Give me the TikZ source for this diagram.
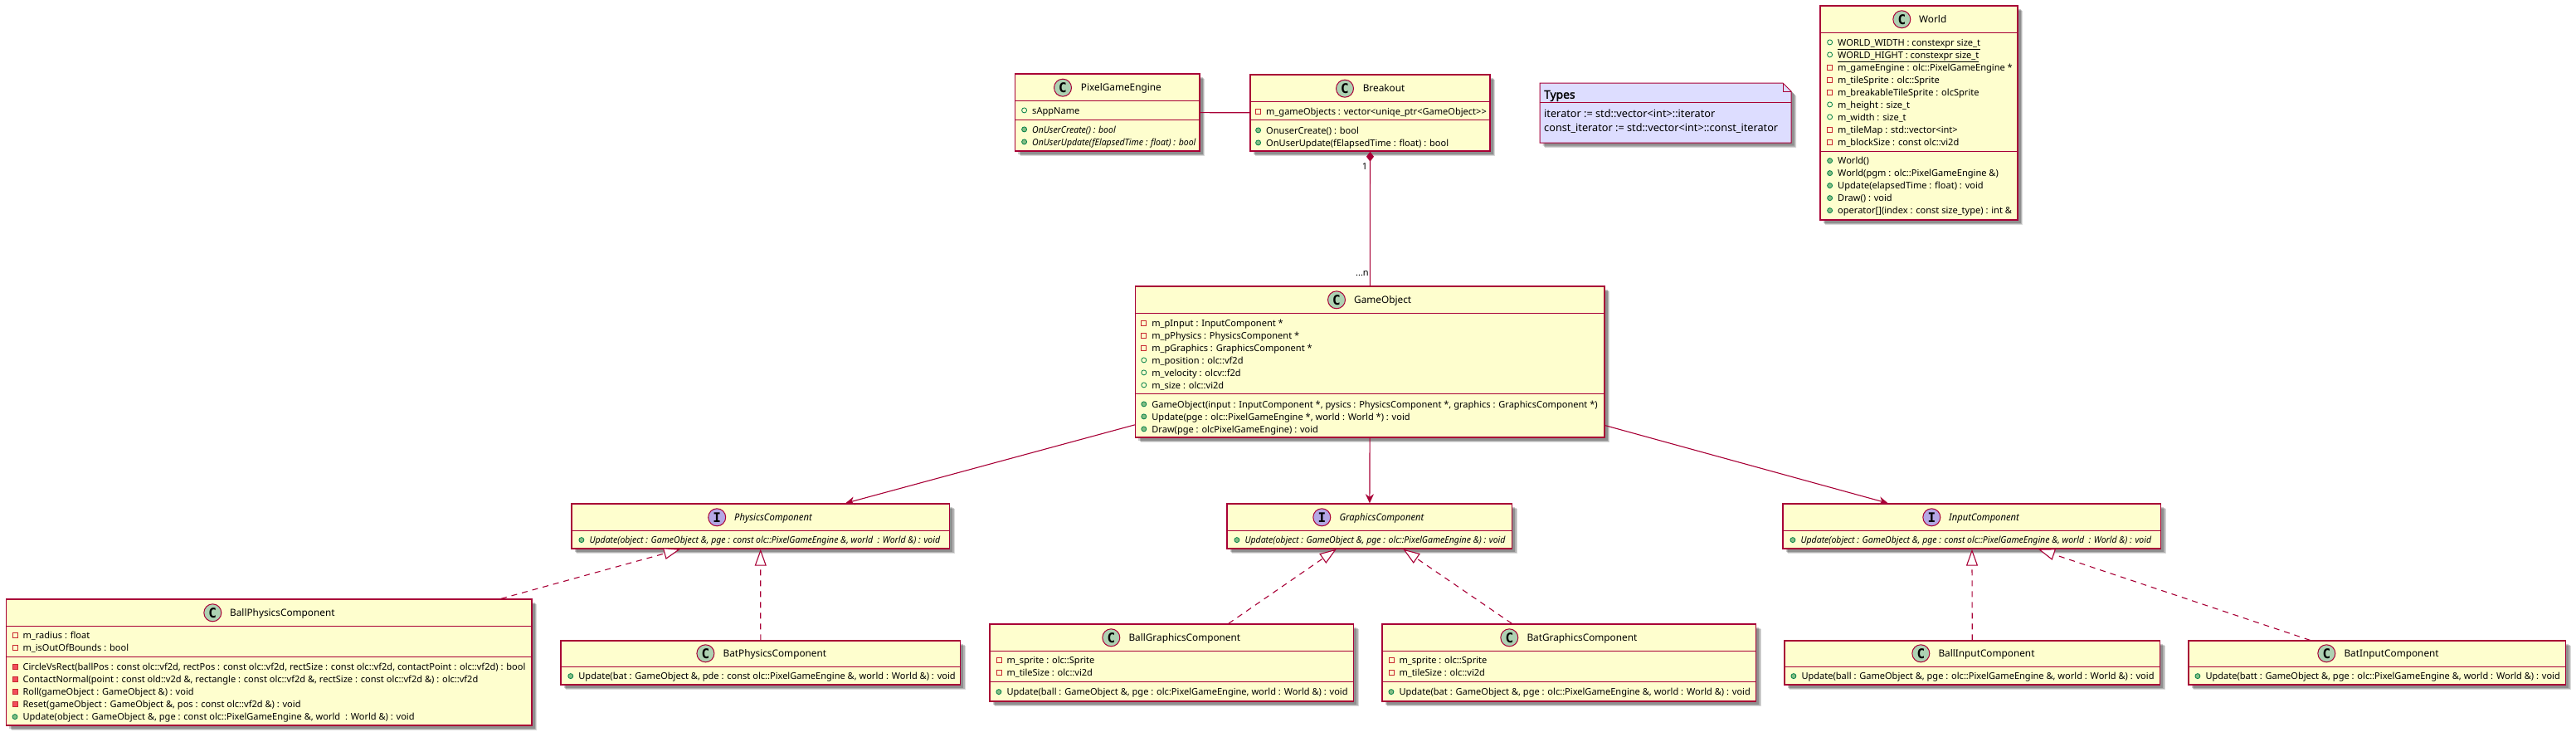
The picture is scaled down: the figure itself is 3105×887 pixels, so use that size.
\documentclass[tikz,border=0pt]{standalone}
\usepackage{fontspec}
\setmainfont{Noto Sans}[ItalicFeatures={FakeStretch=0.95}]
\newfontfamily\iconfont{DejaVu Sans Mono}
\newfontfamily\headfont{Noto Sans}[FakeBold=1.6]
\usetikzlibrary{arrows.meta,shadows}
\definecolor{umlred}{HTML}{A80036}
\definecolor{umlfill}{HTML}{FEFECE}
\definecolor{notefill}{HTML}{DDDDFF}
\definecolor{classicon}{HTML}{ADD1B2}
\definecolor{ifaceicon}{HTML}{B4A7E5}
\definecolor{publine}{HTML}{038048}
\definecolor{pubfill}{HTML}{84BE84}
\definecolor{privline}{HTML}{C82930}
\definecolor{privfill}{HTML}{F24D5C}
\newcommand{\rowfont}{\fontsize{11.05}{14}\selectfont}
\tikzset{
    softshadow/.style={
        drop shadow={shadow xshift=6pt, shadow yshift=-6pt, fill=black, opacity=.14},
        drop shadow={shadow xshift=5pt, shadow yshift=-5pt, fill=black, opacity=.18},
        drop shadow={shadow xshift=3.5pt, shadow yshift=-3.5pt, fill=black, opacity=.2}},
    classbox/.style={draw=umlred, fill=umlfill, line width=1.4pt, inner sep=0pt, softshadow},
    sepline/.style={draw=umlred, line width=1pt},
    classicon/.style={draw=umlred, fill=classicon, circle, line width=1pt, minimum size=21pt, inner sep=0pt, font=\iconfont\bfseries\fontsize{16}{16}\selectfont},
    ifaceicon/.style={classicon, fill=ifaceicon},
    classtitle/.style={anchor=west, inner sep=0pt, text height=9pt, text depth=1.4pt, font=\fontsize{11.8}{16}\selectfont},
    ifacetitle/.style={classtitle, font=\fontsize{11.8}{16}\selectfont\itshape},
    rowtext/.style={anchor=west, inner sep=0pt, text height=9pt, text depth=1.4pt, font=\rowfont},
    roundmark/.style={circle, inner sep=0pt, minimum size=6pt, line width=.8pt, yshift=.4pt, label distance=6pt},
    squaremark/.style={rectangle, inner sep=0pt, minimum size=6pt, line width=.8pt, yshift=.4pt, label distance=6pt},
    pubfield/.style={rowtext, label={[roundmark, draw=publine]left:{}}},
    pubmethod/.style={rowtext, label={[roundmark, draw=publine, fill=pubfill]left:{}}},
    privfield/.style={rowtext, label={[squaremark, draw=privline]left:{}}},
    privmethod/.style={rowtext, label={[squaremark, draw=privline, fill=privfill]left:{}}},
    absmethod/.style={pubmethod, font=\rowfont\itshape},
    assoc/.style={draw=umlred, line width=1.1pt},
    uses/.style={assoc, -{Stealth[length=11pt, width=10pt, inset=3.5pt]}},
    realizes/.style={assoc, dash pattern=on 7pt off 6pt, -{Triangle[open, length=20pt, width=14pt, fill=white]}},
    owns/.style={assoc, {Diamond[length=12pt, width=9pt]}-},
    notetext/.style={anchor=west, inner sep=0pt, font=\fontsize{12.7}{16}\selectfont},
}
\begin{document}
\begin{tikzpicture}[x=1pt, y=-1pt]
    \useasboundingbox (0,0) rectangle (3105,887);

    \node[classbox, minimum width=222.4pt, minimum height=93pt] (PGE) at (1334.8,135.5) {};
    \draw[sepline] (PGE.west |- 0,121) -- (PGE.east |- 0,121);
    \draw[sepline] (PGE.west |- 0,144) -- (PGE.east |- 0,144);
    \node[classicon] (PGEi) at (1281,105.7) {C};
    \node[classtitle] (PGEt) at (1302.7,105.7) {PixelGameEngine};
    \node[pubfield] (PGEa) at (1244,133.3) {sAppName};
    \node[absmethod] (PGEb) at (1244,156.3) {OnUserCreate() : bool};
    \node[absmethod] (PGEc) at (1244,171.3) {OnUserUpdate(fElapsedTime : float) : bool};

    \node[classbox, minimum width=289pt, minimum height=92pt] (BK) at (1651.5,136) {};
    \draw[sepline] (BK.west |- 0,122) -- (BK.east |- 0,122);
    \draw[sepline] (BK.west |- 0,144) -- (BK.east |- 0,144);
    \node[classicon] (BKi) at (1621,106.7) {C};
    \node[classtitle] (BKt) at (1642.6,106.7) {Breakout};
    \node[privfield] (BKa) at (1526,134.3) {m\_gameObjects : vector<uniqe\_ptr<GameObject>{}>};
    \node[pubmethod] (BKb) at (1526,157.3) {OnuserCreate() : bool};
    \node[pubmethod] (BKc) at (1526,172.3) {OnUserUpdate(fElapsedTime : float) : bool};

    \draw[draw=umlred, fill=notefill, line width=1pt, softshadow] (1856,100) -- (2149,100) -- (2159,110) -- (2159,172) -- (1856,172) -- cycle;
    \draw[draw=umlred, line width=1pt] (2149,100) -- (2149,110) -- (2159,110);
    \draw[sepline] (1856,123) -- (2159,123);
    \node[notetext, font=\headfont\fontsize{13.8}{16}\selectfont] (NTt) at (1861,115.5) {Types};
    \node[notetext] (NTa) at (1861,136.7) {iterator := std::vector<int>::iterator};
    \node[notetext] (NTb) at (1861,155) {const\_iterator := std::vector<int>::const\_iterator};

    \node[classbox, minimum width=238pt, minimum height=258pt] (WD) at (2313,136) {};
    \draw[sepline] (WD.west |- 0,39) -- (WD.east |- 0,39);
    \draw[sepline] (WD.west |- 0,182) -- (WD.east |- 0,182);
    \node[classicon] (WDi) at (2292.3,23.3) {C};
    \node[classtitle] (WDt) at (2313,23.3) {World};
    \node[pubfield] (WDa) at (2215,51.3) {\underline{WORLD\_WIDTH : constexpr size\_t}};
    \node[pubfield] (WDb) at (2215,66.3) {\underline{WORLD\_HIGHT : constexpr size\_t}};
    \node[privfield] (WDc) at (2215,81.3) {m\_gameEngine : olc::PixelGameEngine *};
    \node[privfield] (WDd) at (2215,96.3) {m\_tileSprite : olc::Sprite};
    \node[privfield] (WDe) at (2215,111.3) {m\_breakableTileSprite : olcSprite};
    \node[pubfield] (WDf) at (2215,126.3) {m\_height : size\_t};
    \node[pubfield] (WDg) at (2215,141.3) {m\_width : size\_t};
    \node[privfield] (WDh) at (2215,156.3) {m\_tileMap : std::vector<int>};
    \node[privfield] (WDj) at (2215,171.3) {m\_blockSize : const olc::vi2d};
    \node[pubmethod] (WDk) at (2215,194) {World()};
    \node[pubmethod] (WDl) at (2215,209) {World(pgm : olc::PixelGameEngine \&)};
    \node[pubmethod] (WDm) at (2215,224) {Update(elapsedTime : float) : void};
    \node[pubmethod] (WDn) at (2215,239) {Draw() : void};
    \node[pubmethod] (WDo) at (2215,254) {operator[](index : const size\_type) : int \&};

    \node[classbox, minimum width=565.5pt, minimum height=182pt] (GO) at (1651.25,436) {};
    \draw[sepline] (GO.west |- 0,377) -- (GO.east |- 0,377);
    \draw[sepline] (GO.west |- 0,474) -- (GO.east |- 0,474);
    \node[classicon] (GOi) at (1611,361.3) {C};
    \node[classtitle] (GOt) at (1632,361.3) {GameObject};
    \node[privfield] (GOa) at (1388.2,389.3) {m\_pInput : InputComponent *};
    \node[privfield] (GOb) at (1388.2,404.3) {m\_pPhysics : PhysicsComponent *};
    \node[privfield] (GOc) at (1388.2,419.3) {m\_pGraphics : GraphicsComponent *};
    \node[pubfield] (GOd) at (1388.2,434.3) {m\_position : olc::vf2d};
    \node[pubfield] (GOe) at (1388.2,449.3) {m\_velocity : olcv::f2d};
    \node[pubfield] (GOf) at (1388.2,464.3) {m\_size : olc::vi2d};
    \node[pubmethod] (GOg) at (1388.2,487.3) {GameObject(input : InputComponent *, pysics : PhysicsComponent *, graphics : GraphicsComponent *)};
    \node[pubmethod] (GOh) at (1388.2,502.3) {Update(pge : olc::PixelGameEngine *, world : World *) : void};
    \node[pubmethod] (GOj) at (1388.2,517.3) {Draw(pge : olcPixelGameEngine) : void};

    \node[classbox, minimum width=455.5pt, minimum height=54pt] (PC) at (916.75,634) {};
    \draw[sepline] (PC.west |- 0,639) -- (PC.east |- 0,639);
    \node[ifaceicon] (PCi) at (864.2,623.3) {I};
    \node[ifacetitle] (PCt) at (885,623.3) {PhysicsComponent};
    \node[absmethod] (PCa) at (710.3,651) {Update(object : GameObject \&, pge : const olc::PixelGameEngine \&, world~ : World \&) : void};

    \node[classbox, minimum width=343.7pt, minimum height=54pt] (GC) at (1650.85,634) {};
    \draw[sepline] (GC.west |- 0,639) -- (GC.east |- 0,639);
    \node[ifaceicon] (GCi) at (1593.3,623.3) {I};
    \node[ifacetitle] (GCt) at (1614.3,623.3) {GraphicsComponent};
    \node[absmethod] (GCa) at (1500.3,651) {Update(object : GameObject \&, pge : olc::PixelGameEngine \&) : void};

    \node[classbox, minimum width=455.7pt, minimum height=54pt] (IC) at (2376.85,634) {};
    \draw[sepline] (IC.west |- 0,639) -- (IC.east |- 0,639);
    \node[ifaceicon] (ICi) at (2328.3,623.3) {I};
    \node[ifacetitle] (ICt) at (2349,623.3) {InputComponent};
    \node[absmethod] (ICa) at (2170.3,651) {Update(object : GameObject \&, pge : const olc::PixelGameEngine \&, world~ : World \&) : void};

    \node[classbox, minimum width=633.4pt, minimum height=152pt] (BallPC) at (324.3,798) {};
    \draw[sepline] (BallPC.west |- 0,754) -- (BallPC.east |- 0,754);
    \draw[sepline] (BallPC.west |- 0,791) -- (BallPC.east |- 0,791);
    \node[classicon] (BallPCi) at (256.3,738.3) {C};
    \node[classtitle] (BallPCt) at (277,738.3) {BallPhysicsComponent};
    \node[privfield] (BallPCa) at (27.4,766) {m\_radius : float};
    \node[privfield] (BallPCb) at (27.4,781) {m\_isOutOfBounds : bool};
    \node[privmethod] (BallPCc) at (27.4,804) {CircleVsRect(ballPos : const olc::vf2d, rectPos : const olc::vf2d, rectSize : const olc::vf2d, contactPoint : olc::vf2d) : bool};
    \node[privmethod] (BallPCd) at (27.4,819) {ContactNormal(point : const old::v2d \&, rectangle : const olc::vf2d \&, rectSize : const olc::vf2d \&) : olc::vf2d};
    \node[privmethod] (BallPCe) at (27.4,834) {Roll(gameObject : GameObject \&) : void};
    \node[privmethod] (BallPCf) at (27.4,849) {Reset(gameObject : GameObject \&, pos : const olc::vf2d \&) : void};
    \node[pubmethod] (BallPCg) at (27.4,864) {Update(object : GameObject \&, pge : const olc::PixelGameEngine \&, world~ : World \&) : void};

    \node[classbox, minimum width=481.6pt, minimum height=53pt] (BatPC) at (916.8,798.5) {};
    \draw[sepline] (BatPC.west |- 0,803) -- (BatPC.east |- 0,803);
    \node[classicon] (BatPCi) at (850.4,787.3) {C};
    \node[classtitle] (BatPCt) at (871.4,787.3) {BatPhysicsComponent};
    \node[pubmethod] (BatPCa) at (697.2,815) {Update(bat : GameObject \&, pde : const olc::PixelGameEngine \&, world : World \&) : void};

    \node[classbox, minimum width=438.7pt, minimum height=93pt] (BallGC) at (1412.35,798.5) {};
    \draw[sepline] (BallGC.west |- 0,784) -- (BallGC.east |- 0,784);
    \draw[sepline] (BallGC.west |- 0,821) -- (BallGC.east |- 0,821);
    \node[classicon] (BallGCi) at (1339.3,768.3) {C};
    \node[classtitle] (BallGCt) at (1360.3,768.3) {BallGraphicsComponent};
    \node[privfield] (BallGCa) at (1213.3,796) {m\_sprite : olc::Sprite};
    \node[privfield] (BallGCb) at (1213.3,811) {m\_tileSize : olc::vi2d};
    \node[pubmethod] (BallGCc) at (1213.3,834) {Update(ball : GameObject \&, pge : olc:PixelGameEngine, world : World \&) : void};

    \node[classbox, minimum width=450.7pt, minimum height=93pt] (BatGC) at (1891.35,798.5) {};
    \draw[sepline] (BatGC.west |- 0,784) -- (BatGC.east |- 0,784);
    \draw[sepline] (BatGC.west |- 0,821) -- (BatGC.east |- 0,821);
    \node[classicon] (BatGCi) at (1819.3,768.3) {C};
    \node[classtitle] (BatGCt) at (1840.3,768.3) {BatGraphicsComponent};
    \node[privfield] (BatGCa) at (1686.3,796) {m\_sprite : olc::Sprite};
    \node[privfield] (BatGCb) at (1686.3,811) {m\_tileSize : olc::vi2d};
    \node[pubmethod] (BatGCc) at (1686.3,834) {Update(bat : GameObject \&, pge : olc::PixelGameEngine \&, world : World \&) : void};

    \node[classbox, minimum width=452.7pt, minimum height=53pt] (BallIC) at (2377.35,798.5) {};
    \draw[sepline] (BallIC.west |- 0,803) -- (BallIC.east |- 0,803);
    \node[classicon] (BallICi) at (2315.3,787.3) {C};
    \node[classtitle] (BallICt) at (2336.3,787.3) {BallInputComponent};
    \node[pubmethod] (BallICa) at (2171.3,815) {Update(ball : GameObject \&, pge : olc::PixelGameEngine \&, world : World \&) : void};

    \node[classbox, minimum width=454.7pt, minimum height=53pt] (BatIC) at (2865.35,798.5) {};
    \draw[sepline] (BatIC.west |- 0,803) -- (BatIC.east |- 0,803);
    \node[classicon] (BatICi) at (2804.3,787.3) {C};
    \node[classtitle] (BatICt) at (2825.3,787.3) {BatInputComponent};
    \node[pubmethod] (BatICa) at (2658.3,815) {Update(batt : GameObject \&, pge : olc::PixelGameEngine \&, world : World \&) : void};

    \draw[assoc] (PGE) -- (BK);
    \draw[owns] (BK) -- (GO);
    \node[rowtext, anchor=center] (BKm) at (1645,200.7) {1};
    \node[rowtext, anchor=east] (GOm) at (1650,329) {...n};

    \draw[uses] (GO) -- (PC);
    \draw[uses] (GO) -- (GC);
    \draw[uses] (GO) -- (IC);

    \draw[realizes] ([xshift=279.7pt]BallPC.north) -- ([xshift=-96.75pt]PC.south);
    \draw[realizes] (BatPC) -- (PC);
    \draw[realizes] (BallGC) -- (GC);
    \draw[realizes] (BatGC) -- (GC);
    \draw[realizes] (BallIC) -- (IC);
    \draw[realizes] ([xshift=-81pt]BatIC.north) -- ([xshift=80pt]IC.south);
\end{tikzpicture}
\end{document}
